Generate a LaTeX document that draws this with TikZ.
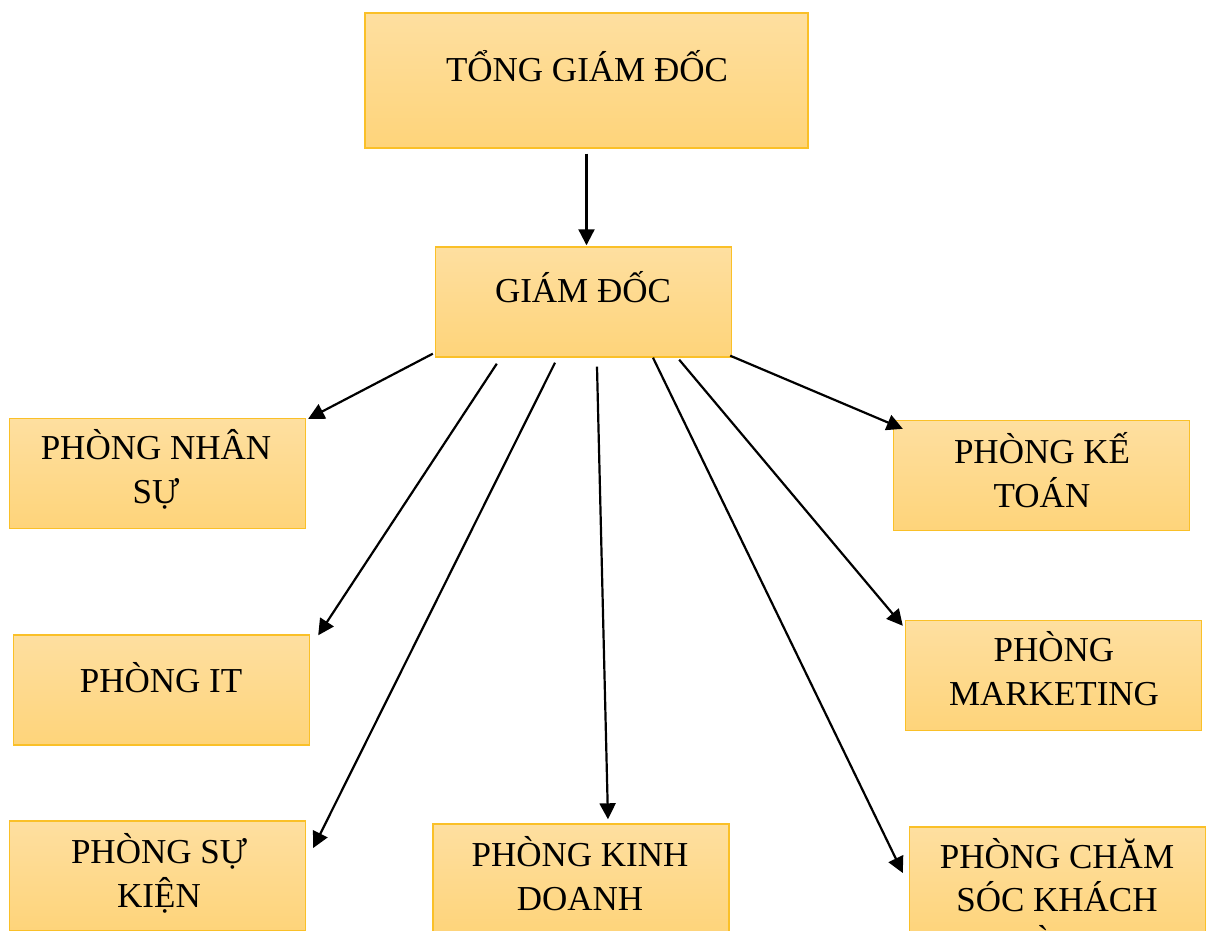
\documentclass[tikz,border=0pt]{standalone}
\usepackage{fontspec}
\setmainfont{Liberation Serif}
\usetikzlibrary{arrows.meta,calc}
\definecolor{boxtop}{RGB}{254,223,160}
\definecolor{boxbot}{RGB}{254,212,122}
\definecolor{boxline}{RGB}{250,192,40}
\begin{document}
\begin{tikzpicture}[
  x=0.5pt, y=-0.5pt,
  box/.style = {draw=boxline, line width=0.7pt, top color=boxtop, bottom color=boxbot,
    minimum width=148pt, minimum height=55pt, inner sep=0pt},
  txt/.style = {anchor=base, align=center, inner sep=0pt,
    font=\fontsize{17.5}{21.75}\selectfont},
  arr/.style = {-{Triangle[length=8pt,width=8pt]}, line width=1.1pt},
]
\useasboundingbox (0,0) rectangle (1206,931);
\begin{scope}
\clip (0,0) rectangle (1206,931);
\node[box, minimum width=221.5pt, minimum height=67.5pt] (tgd) at (586.5,80.5) {};
\node[box] (gd) at (583.5,302) {};
\node[box] (ns) at (157.5,473.5) {};
\node[box] (it) at (161.5,690) {};
\node[box] (sk) at (157.5,876) {};
\node[box] (kd) at (581,879) {};
\node[box] (kt) at (1041.5,475.5) {};
\node[box] (mk) at (1053.5,675.5) {};
\node[box] (cs) at (1057.5,882) {};
\node[txt] (tgd-t) at (587,82) {TỔNG GIÁM ĐỐC};
\node[txt] (gd-t) at (583,302) {GIÁM ĐỐC};
\node[txt] (ns-t) at (156,503) {PHÒNG NHÂN\\SỰ};
\node[txt] (it-t) at (161,692) {PHÒNG IT};
\node[txt] (sk-t) at (159,907) {PHÒNG SỰ\\KIỆN};
\node[txt] (kd-t) at (580,910) {PHÒNG KINH\\DOANH};
\node[txt] (kt-t) at (1042,507) {PHÒNG KẾ\\TOÁN};
\node[txt] (mk-t) at (1054,705) {PHÒNG\\MARKETING};
\node[txt] (cs-t) at (1057,955) {PHÒNG CHĂM\\SÓC KHÁCH\\HÀNG};
\end{scope}
\draw[arr] ([yshift=-2.5pt]tgd.south) -- ([yshift=0.5pt]tgd.south |- gd.north);
\draw[arr] ($(gd.south west)+(-2,-4)$) -- ($(ns.north east)+(2,1)$);
\draw[arr] ($(gd.south west)+(62,6)$) -- ($(it.north east)+(8,1)$);
\draw[arr] ($(gd.south)+(-28.5,5)$) -- ($(sk.east)+(7,-28)$);
\draw[arr] ($(gd.south)+(13.5,9)$) -- ($(kd.north)+(27,-4)$);
\draw[arr] ($(gd.south)+(69.5,0)$) -- ($(cs.west)+(-6,-9)$);
\draw[arr] ($(gd.south east)+(-53,2)$) -- ($(mk.north west)+(-2,6)$);
\draw[arr] ($(gd.south east)+(-2,-2)$) -- ($(kt.north west)+(10,9)$);
\end{tikzpicture}
\end{document}
